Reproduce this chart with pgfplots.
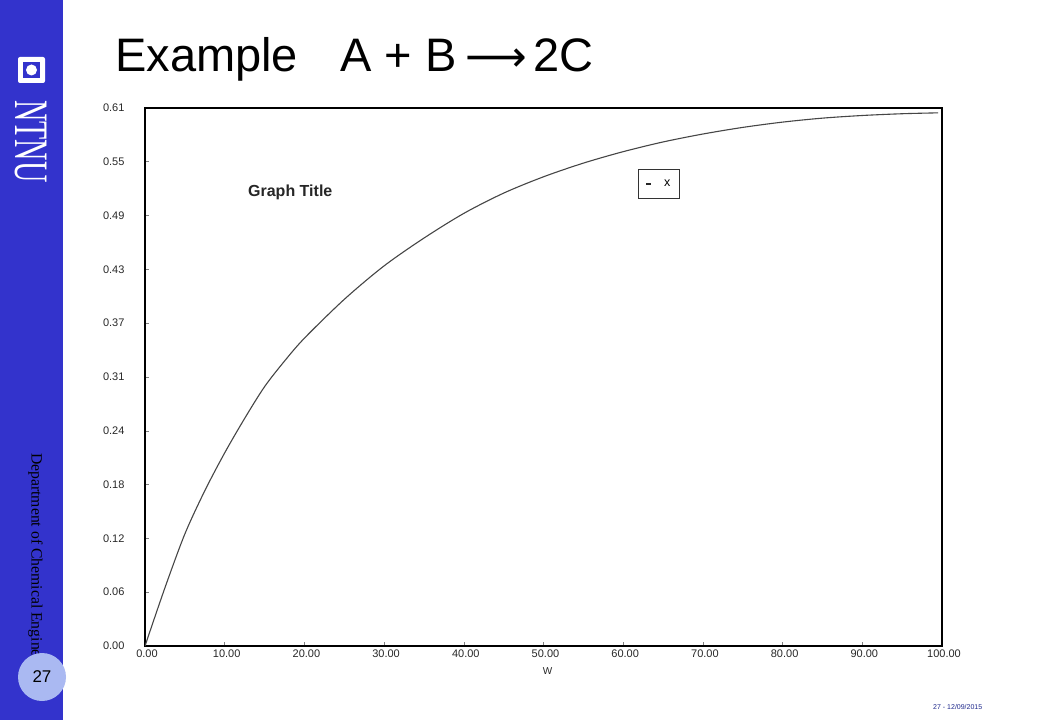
\documentclass[border=0pt]{standalone}
\usepackage{fontspec}
\setmainfont{Liberation Sans}
\newfontfamily\seriffont{Liberation Serif}
\newfontfamily\dejavu{DejaVu Sans}
\usepackage{graphicx}
\usepackage{pgfplots}
\pgfplotsset{compat=1.18}
\definecolor{ntnublue}{RGB}{51,51,204}
\definecolor{circblue}{RGB}{170,185,242}
\definecolor{footblue}{RGB}{30,40,140}
\definecolor{curvegray}{RGB}{70,70,70}
\definecolor{labgray}{RGB}{40,40,40}

\pgfplotstableread{
w y
0.0 0.0000
2.5 0.0660
5.0 0.1270
7.5 0.1760
10.0 0.2190
12.5 0.2580
15.0 0.2940
17.5 0.3230
20.0 0.3490
25.0 0.3930
30.0 0.4310
35.0 0.4625
40.0 0.4905
45.0 0.5135
50.0 0.5320
55.0 0.5475
60.0 0.5605
65.0 0.5715
70.0 0.5805
75.0 0.5880
80.0 0.5940
85.0 0.5985
90.0 0.6015
95.0 0.6035
99.5 0.6045
}\curvedata

\begin{document}
\begin{tikzpicture}
\fill[white] (0pt,0pt) rectangle (1040pt,720pt);
% sidebar
\fill[ntnublue] (0pt,0pt) rectangle (63pt,720pt);
% logo
\fill[white, rounded corners=2pt] (18pt,637pt) rectangle (45pt,663pt);
\fill[ntnublue] (23pt,642pt) rectangle (40pt,658pt);
\fill[white] (31.5pt,650pt) circle (5.5pt);
\node[rotate=-90, text=white, inner sep=0pt] at (31pt,578.5pt)
  {\seriffont\fontsize{48}{48}\selectfont\scalebox{0.62}[1]{NTNU}};
\node[rotate=-90, anchor=west, inner sep=0pt, text=black] at (35.5pt,267pt)
  {\seriffont\fontsize{15.7}{16}\selectfont Department of Chemical Engineering};
\fill[circblue] (42pt,43pt) circle (24pt);
\node[inner sep=0pt] at (42pt,43pt) {\fontsize{17}{17}\selectfont 27};
% title
\node[anchor=base west, inner sep=0pt] at (115pt,648pt)
  {\fontsize{47}{47}\selectfont Example};
\node[anchor=base west, inner sep=0pt] at (340pt,648pt)
  {\fontsize{47}{47}\selectfont A + B\hspace{9pt}{\dejavu\fontsize{43}{43}\selectfont\char"27F6}\hspace{6pt}2C};
% footer
\node[anchor=base west, inner sep=0pt, text=footblue] at (933pt,11pt)
  {\fontsize{7}{7}\selectfont 27 - 12/09/2015};

\begin{axis}[
  at={(145pt,74pt)}, anchor=south west,
  scale only axis, width=797pt, height=538pt,
  xmin=0, xmax=100, ymin=0, ymax=0.61,
  axis line style={line width=1.8pt, black},
  xtick={0,10,20,30,40,50,60,70,80,90,100},
  xticklabels={0.00,10.00,20.00,30.00,40.00,50.00,60.00,70.00,80.00,90.00,100.00},
  ytick={0,0.061,0.122,0.183,0.244,0.305,0.366,0.427,0.488,0.549,0.61},
  yticklabels={0.00,0.06,0.12,0.18,0.24,0.31,0.37,0.43,0.49,0.55,0.61},
  xtick pos=lower, ytick pos=left,
  tick align=inside, major tick length=4pt,
  tick style={gray, line width=0.6pt},
  ticklabel style={font=\fontsize{11}{11}\selectfont, text=labgray},
  xticklabel style={xshift=2pt},
  yticklabel style={xshift=-17pt},
  /pgf/number format/assume math mode=true,
  xlabel={W},
  xlabel style={font=\fontsize{10}{10}\selectfont, text=labgray, at={(axis description cs:0.505,-0.046)}, anchor=center},
  legend style={at={(0.6186,0.8866)}, anchor=north west, draw=black!80, line width=0.9pt,
    inner xsep=7pt, inner ysep=8.5pt, font=\fontsize{12.5}{12.5}\selectfont,
    legend cell align=left},
  legend image code/.code={\draw[line width=1.6pt, black!85] (0pt,0pt) -- (5pt,0pt);},
]
\addplot[curvegray, line width=1.1pt, smooth] table[x=w, y=y] {\curvedata};
\addlegendentry{\hspace{10pt}x\hspace{8pt}}
\node[anchor=base west, inner sep=0pt, font=\bfseries\fontsize{16}{16}\selectfont, text=black!85]
  at (rel axis cs:0.1292,0.8346) {Graph Title};
\end{axis}
\end{tikzpicture}
\end{document}
